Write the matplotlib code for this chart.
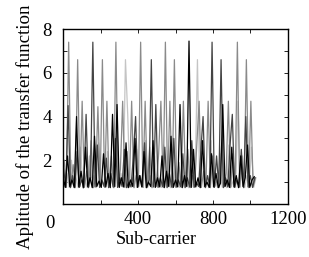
"""
Amplitude of the transfer function vs. sub-carrier
"""
# import packages
import matplotlib
matplotlib.use('Agg')
import matplotlib.pyplot as plt
import numpy as np


# ###
# 1.Data
# ###
# each series sampled every 12 sub-carriers, with its own start offset
SUBCARRIER_STEP = 12
OFFSET_BLACK = 0
OFFSET_DARK  = 3
OFFSET_GRAY  = 6
OFFSET_LIGHT = 9

AMP_BLACK = [1.25, 0.76, 2.20, 0.80, 1.10, 0.75, 4.00, 0.78, 1.50, 0.74,
             2.60, 0.79, 1.20, 0.75, 3.10, 0.80, 1.05, 0.76, 2.30, 0.78,
             1.40, 0.75, 4.10, 0.80, 4.55, 0.76, 1.20, 0.78, 2.80, 0.75,
             1.10, 0.80, 3.00, 0.76, 1.30, 0.78, 2.40, 0.75, 1.00, 0.80,
             2.90, 0.76, 1.20, 0.78, 2.20, 0.75, 1.50, 0.80, 3.10, 0.76,
             1.10, 0.78, 4.55, 0.75, 1.30, 0.80, 7.45, 0.76, 2.50, 0.78,
             1.20, 0.75, 2.90, 0.80, 1.00, 0.76, 2.30, 0.78, 1.40, 0.75,
             0.95, 4.55, 0.80, 1.10, 0.76, 2.60, 0.78, 1.30, 0.75, 2.20,
             0.80, 1.20, 2.70, 0.76, 1.10, 1.25]

AMP_DARK = [1.60, 0.78, 4.50, 0.75, 1.30, 0.80, 2.40, 0.76, 1.10, 0.78,
            4.10, 0.75, 1.20, 7.40, 0.78, 2.70, 0.76, 1.10, 0.80, 2.10,
            0.75, 1.40, 0.78, 3.00, 0.76, 1.20, 0.80, 2.50, 0.75, 1.00,
            0.78, 2.20, 4.00, 0.76, 1.30, 0.80, 2.80, 0.75, 1.10, 6.60,
            0.78, 4.55, 0.76, 1.20, 0.80, 2.60, 0.75, 1.40, 0.78, 3.00,
            0.76, 1.10, 0.80, 2.30, 0.75, 1.20, 0.78, 2.90, 0.76, 1.00,
            0.80, 2.40, 4.00, 0.75, 1.30, 0.78, 7.40, 0.76, 2.20, 0.80,
            6.60, 0.75, 1.20, 0.78, 2.70, 4.10, 0.76, 1.10, 0.80, 2.50,
            0.75, 4.00, 0.78, 1.30, 0.76, 1.20]

AMP_GRAY = [2.00, 0.76, 7.40, 0.78, 1.80, 0.75, 6.60, 0.80, 4.70, 0.76,
            1.50, 0.78, 2.90, 0.75, 1.20, 4.45, 0.80, 6.60, 0.76, 4.70,
            0.78, 2.20, 0.75, 7.40, 0.80, 1.60, 4.70, 0.76, 2.40, 0.78,
            4.70, 0.75, 1.30, 0.80, 7.40, 0.76, 4.70, 0.78, 2.60, 0.75,
            1.20, 0.80, 2.30, 4.70, 0.76, 7.40, 0.78, 4.70, 0.75, 6.60,
            0.80, 1.90, 0.76, 4.70, 0.78, 2.50, 0.75, 1.30, 0.80, 2.80,
            4.70, 0.76, 1.50, 0.78, 4.70, 0.75, 2.20, 0.80, 1.10, 0.76,
            2.70, 0.78, 1.40, 4.70, 0.75, 2.30, 0.80, 7.40, 0.76, 1.60,
            0.78, 6.60, 0.75, 4.70, 0.80, 1.20]

AMP_LIGHT = [0.80, 1.40, 0.76, 2.00, 0.78, 1.20, 0.75, 2.60, 0.80, 1.10,
             0.76, 2.20, 0.78, 1.30, 0.75, 2.80, 0.80, 1.00, 0.76, 2.40,
             0.78, 1.20, 0.75, 3.10, 0.80, 1.40, 0.76, 6.60, 4.10, 0.78,
             1.20, 0.75, 2.50, 0.80, 1.10, 0.76, 2.90, 0.78, 1.30, 0.75,
             2.20, 0.80, 1.00, 0.76, 2.70, 0.78, 1.20, 0.75, 3.00, 0.80,
             1.40, 0.76, 2.10, 0.78, 1.10, 0.75, 2.60, 0.80, 1.30, 6.60,
             0.76, 2.40, 0.78, 1.20, 0.75, 2.90, 0.80, 1.00, 0.76, 2.30,
             0.78, 1.40, 0.75, 2.70, 0.80, 1.10, 0.76, 4.70, 0.78, 2.20,
             0.75, 1.30, 0.80, 2.60, 0.76, 1.20]

X_TICKS       = [0, 200, 400, 600, 800, 1000, 1200]
X_TICK_LABELS = ['', '', '400', '', '800', '', '1200']
Y_TICKS       = [0, 1, 2, 3, 4, 5, 6, 7, 8]
Y_TICK_LABELS = ['', '', '2', '', '4', '', '6', '', '8']


# ###
# 2.Figure variables
# ###
FONT_FAMILY     = 'Liberation Serif'
PLOT_LINE_WIDTH = 0.9
PLOT_DPI        = 100


# ###
# 3.Figure function
# ###
def draw_figure(image_path):
    plt.rcParams['font.family'] = FONT_FAMILY
    fig = plt.figure(figsize=(3.09, 2.57), dpi=PLOT_DPI, facecolor='w')
    ax = fig.add_axes([0.204, 0.206, 0.728, 0.681])

    # light first, black last (on top)
    series = [(OFFSET_LIGHT, AMP_LIGHT, '#c4c4c4'),
              (OFFSET_GRAY,  AMP_GRAY,  '#8a8a8a'),
              (OFFSET_DARK,  AMP_DARK,  '#444444'),
              (OFFSET_BLACK, AMP_BLACK, '#000000')]
    for offset, amp, color in series:
        x = offset + SUBCARRIER_STEP * np.arange(len(amp))
        ax.plot(x, amp, color=color, linewidth=PLOT_LINE_WIDTH)

    # axis setting
    ax.set_xlim(0, 1200)
    ax.set_ylim(0, 8)
    ax.set_xticks(X_TICKS)
    ax.set_xticklabels(X_TICK_LABELS)
    ax.set_yticks(Y_TICKS)
    ax.set_yticklabels(Y_TICK_LABELS)
    ax.tick_params(axis='both', which='major', direction='in', length=3, width=0.6,
                   top=True, right=True, labelsize=13.5)
    ax.tick_params(axis='x', pad=5)
    ax.tick_params(axis='y', pad=8)
    for spine in ax.spines.values():
        spine.set_linewidth(1.0)

    # shared origin label
    ax.text(-0.058, -0.11, '0', transform=ax.transAxes, ha='center', va='center', fontsize=13.5)

    fig.text(0.505, 0.07, 'Sub-carrier', ha='center', va='center', fontsize=13)
    fig.text(0.081, 0.508, 'Aplitude of the transfer function', ha='center', va='center',
             rotation=90, fontsize=13.6)

    plt.savefig(image_path, dpi=PLOT_DPI)
    plt.close(fig)


# ###
# 4.main function
# ###
def main_function():
    draw_figure('out.png')


if __name__ == '__main__':
    main_function()
